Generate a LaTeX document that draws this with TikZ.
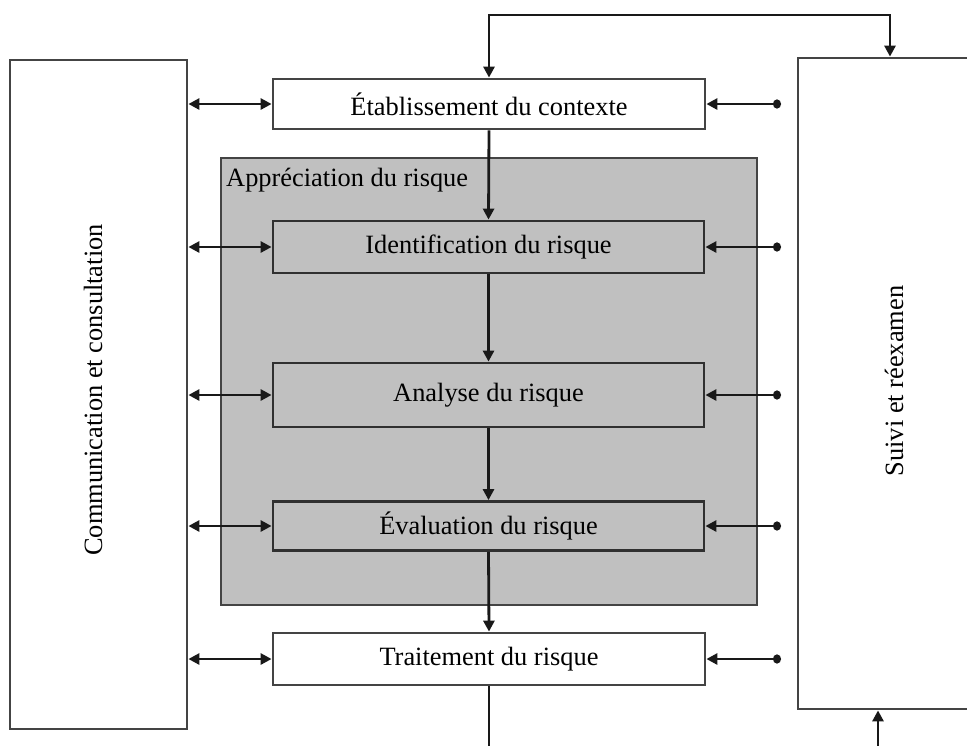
\documentclass[tikz,border=0pt]{standalone}
\usepackage{fontspec}
\setmainfont{Liberation Serif}
\usetikzlibrary{arrows.meta}
\definecolor{boxgray}{RGB}{192,192,192}
\definecolor{edgegray}{RGB}{68,68,68}
\definecolor{linkgray}{RGB}{25,25,25}
\begin{document}
\begin{tikzpicture}[x=1pt,y=-1pt,
  every node/.style={font=\fontsize{26.4}{30}\selectfont, text=black},
  plainbox/.style={draw=edgegray, line width=2.8pt, fill=white, inner sep=0pt, rectangle},
  innerbox/.style={draw=linkgray!90, line width=2.8pt, fill=boxgray, inner sep=0pt, rectangle},
  groupbox/.style={draw=edgegray, line width=2.8pt, fill=boxgray, inner sep=0pt, rectangle},
  link/.style={draw=linkgray, line width=2.8pt},
  >={Triangle[length=11pt,width=11pt]},
  dotend/.style={{Circle[length=8pt,width=9pt]}-{Triangle[length=11pt,width=11pt]}}
]
\useasboundingbox (0,0) rectangle (967,745);

% big side boxes
\node[plainbox, minimum width=177, minimum height=669] (comm) at (98.5,394.5) {};
\node[rotate=90] (commtxt) at (93,390) {Communication et consultation};
\node[plainbox, minimum width=202, minimum height=651] (suivi) at (899,383.5) {};
\node[rotate=90] (suivitxt) at (894,381) {Suivi et réexamen};

% risk assessment group
\node[groupbox, minimum width=536, minimum height=447] (appr) at (489,381.5) {};
\node[anchor=base west, inner sep=0pt] (apprlbl) at (226,186) {Appréciation du risque};

% process boxes
\node[plainbox, minimum width=432, minimum height=50] (etab) at (489,104) {Établissement du contexte};
\node[innerbox, minimum width=431, minimum height=52] (ident) at (488.5,247) {Identification du risque};
\node[innerbox, minimum width=431, minimum height=64] (anal) at (488.5,395) {Analyse du risque};
\node[innerbox, minimum width=431, minimum height=49] (eval) at (488.5,526) {Évaluation du risque};
\node[plainbox, minimum width=432, minimum height=52] (trait) at (489,659) {Traitement du risque};

% helper coordinates
\coordinate (topL) at (489,15);
\coordinate (topR) at (890,15);
\coordinate (rx) at (781,0);
\coordinate (botL) at (489,760);
\coordinate (botR) at (878,760);

% top feedback loop
\draw[link, <->] (etab.north) -- (etab.north |- topL) -- (topR) -- (topR |- suivi.north);

% vertical flow
\draw[link, ->] (etab.south) -- (ident.north);
\draw[link, ->] (ident.south) -- (anal.north);
\draw[link, ->] (anal.south) -- (eval.north);
\draw[link, ->] (eval.south) -- (trait.north);
\draw[link] (trait.south) -- (botL);
\draw[link, ->] (botR) -- (botR |- suivi.south);

% side connectors
\foreach \n in {etab,ident,anal,eval,trait}{
  \draw[link, <->] (comm.east |- \n.west) -- (\n.west);
  \draw[link, dotend] (rx |- \n.east) -- (\n.east);
}
\end{tikzpicture}
\end{document}
